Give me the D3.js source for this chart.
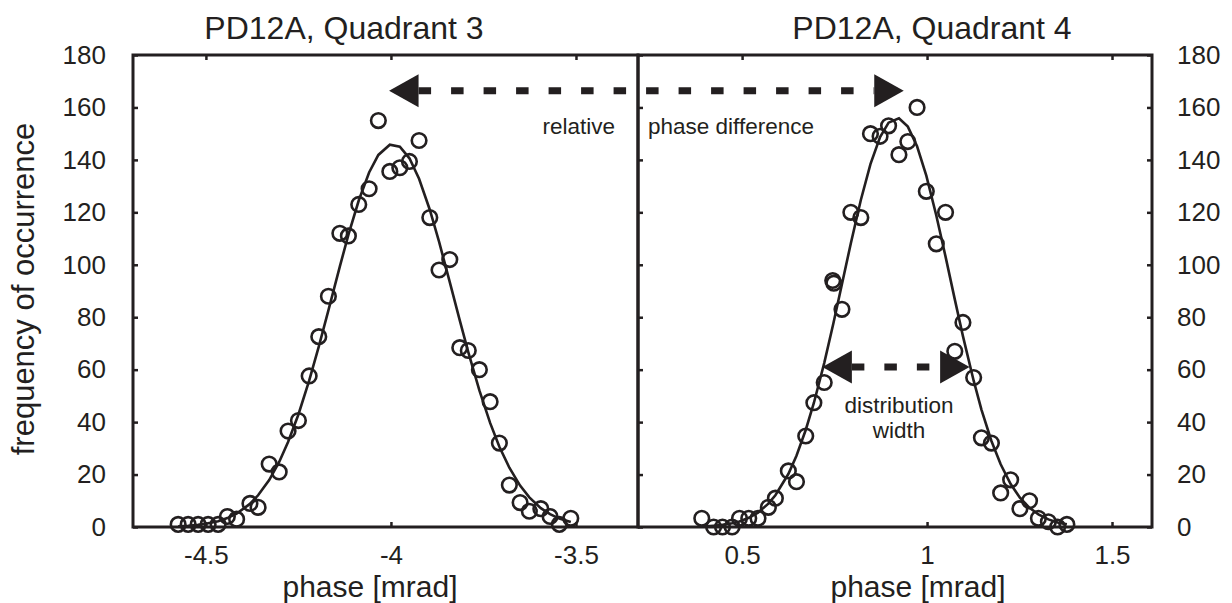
<!DOCTYPE html>
<html>
<head>
<meta charset="utf-8">
<script src="https://cdn.jsdelivr.net/npm/d3@7"></script>
<style>
  body { margin: 0; background: #fff; }
  svg { display: block; font-family: "Liberation Sans", Arial, Helvetica, sans-serif; }
</style>
</head>
<body>
<div id="chart-area"></div>
<script>
const WIDTH = 1232;
const HEIGHT = 603;
const INK = '#231f20';

// PD12A, Quadrant 3 - histogram points
const q3Phase = [-4.575, -4.548, -4.521, -4.494, -4.467, -4.442, -4.417, -4.381, -4.359, -4.329,
  -4.302, -4.278, -4.250, -4.221, -4.195, -4.169, -4.138, -4.115, -4.087, -4.059,
  -4.034, -4.003, -3.976, -3.950, -3.924, -3.895, -3.870, -3.841, -3.814, -3.791,
  -3.761, -3.732, -3.707, -3.680, -3.651, -3.626, -3.595, -3.570, -3.545, -3.514];
const q3Count = [1, 1, 1, 1, 1, 4, 3, 9, 7.5, 24,
  21, 36.6, 40.6, 57.6, 72.6, 88, 112, 111, 123, 129,
  155, 135.6, 137, 139.4, 147.4, 118, 98, 102, 68.4, 67.3,
  60, 47.8, 32, 16, 9.3, 6, 7, 4, 1, 3.3];
// fitted curve, read at the same phases
const q3Fit = [0.3, 0.5, 0.8, 1.4, 2.2, 3.4, 5.1, 8.8, 12.1, 17.9,
  24.8, 32.4, 42.9, 55.8, 68.8, 82.6, 99.4, 111.4, 124.5, 135.2,
  141.9, 145.8, 145.0, 140.6, 132.8, 121.0, 108.8, 93.4, 78.8, 66.7,
  52.1, 39.7, 30.6, 22.6, 15.8, 11.3, 7.2, 4.9, 3.2, 1.9];

// PD12A, Quadrant 4 - histogram points
const q4Phase = [0.391, 0.423, 0.447, 0.473, 0.493, 0.518, 0.543, 0.571, 0.590, 0.625,
  0.647, 0.672, 0.694, 0.722, 0.745, 0.748, 0.770, 0.794, 0.821, 0.847,
  0.873, 0.896, 0.924, 0.948, 0.973, 0.998, 1.025, 1.050, 1.075, 1.097,
  1.126, 1.147, 1.174, 1.199, 1.226, 1.251, 1.277, 1.301, 1.328, 1.353, 1.378];
const q4Count = [3.3, 0, 0, 0, 3.3, 3.3, 3.3, 7.5, 11, 21.4,
  17.3, 34.7, 47.4, 55.1, 94, 93, 83, 120, 118, 150,
  149, 153, 142, 147, 160, 128, 108, 120, 67, 78,
  57, 34, 32, 13, 18, 7, 10, 3.3, 2, 0, 1];
const q4FitPhase = [0.391, 0.423, 0.447, 0.473, 0.493, 0.518, 0.543, 0.571, 0.590, 0.625,
  0.647, 0.672, 0.694, 0.722, 0.747, 0.770, 0.794, 0.821, 0.847, 0.873,
  0.896, 0.924, 0.948, 0.973, 0.998, 1.025, 1.050, 1.075, 1.097, 1.126,
  1.147, 1.174, 1.199, 1.226, 1.251, 1.277, 1.301, 1.328, 1.353, 1.378];
const q4Fit = [0.2, 0.5, 0.8, 1.4, 2.1, 3.5, 5.5, 8.9, 12.1, 20.2,
  27.2, 37.0, 47.3, 62.5, 77.8, 92.7, 108.2, 124.7, 138.4, 148.7,
  154.2, 155.9, 152.7, 145.2, 134.0, 118.8, 103.1, 86.8, 72.8, 55.8,
  44.8, 32.8, 23.9, 16.4, 11.2, 7.3, 4.8, 2.9, 1.7, 1.0];

const countTicks = [0, 20, 40, 60, 80, 100, 120, 140, 160, 180];
const q3PhaseTicks = [-4.5, -4, -3.5];
const q4PhaseTicks = [0.5, 1, 1.5];
const titles = ['PD12A, Quadrant 3', 'PD12A, Quadrant 4'];
const xTitle = 'phase [mrad]';
const yTitle = 'frequency of occurrence';

const TOP = 55;
const BOTTOM = 527;

main();

function main() {
  const svg = d3.select('#chart-area').append('svg')
    .attr('width', WIDTH)
    .attr('height', HEIGHT);

  const y = d3.scaleLinear().domain([0, 180]).range([BOTTOM, TOP]);
  const x3 = d3.scaleLinear().domain([-4.697, -3.3324]).range([133, 638]);
  const x4 = d3.scaleLinear().domain([0.2186, 1.6081]).range([638, 1152]);

  drawPanel(svg, {
    x: x3, y, ticks: q3PhaseTicks, phase: q3Phase, count: q3Count,
    fitPhase: q3Phase, fit: q3Fit, side: 'left',
    title: titles[0], titleX: 344, labelX: 370,
  });
  drawPanel(svg, {
    x: x4, y, ticks: q4PhaseTicks, phase: q4Phase, count: q4Count,
    fitPhase: q4FitPhase, fit: q4Fit, side: 'right',
    title: titles[1], titleX: 932, labelX: 918,
  });

  svg.append('text')
    .attr('transform', `translate(34, 289) rotate(-90)`)
    .attr('text-anchor', 'middle')
    .attr('font-size', 31)
    .attr('fill', INK)
    .text(yTitle);

  // relative phase difference: peak to peak
  drawArrow(svg, x3(-4.005), x4(0.937), y(166.4));
  svg.append('text')
    .attr('x', 615).attr('y', 134)
    .attr('text-anchor', 'end')
    .attr('font-size', 22.5)
    .attr('fill', INK)
    .text('relative');
  svg.append('text')
    .attr('x', 648).attr('y', 134)
    .attr('font-size', 22.5)
    .attr('fill', INK)
    .text('phase difference');

  // distribution width
  drawArrow(svg, x4(0.717), x4(1.115), y(61));
  svg.append('text')
    .attr('x', 899).attr('y', 413)
    .attr('text-anchor', 'middle')
    .attr('font-size', 22.5)
    .attr('fill', INK)
    .text('distribution');
  svg.append('text')
    .attr('x', 899).attr('y', 438)
    .attr('text-anchor', 'middle')
    .attr('font-size', 22.5)
    .attr('fill', INK)
    .text('width');
}

function drawPanel(svg, p) {
  const [x0, x1] = p.x.range();
  const g = svg.append('g');

  const styleAxis = sel => {
    sel.select('.domain').remove();
    sel.selectAll('.tick line').attr('stroke', INK).attr('stroke-width', 2.5);
    sel.selectAll('.tick text')
      .attr('fill', INK)
      .attr('font-size', 26)
      .attr('font-family', '"Liberation Sans", Arial, sans-serif');
  };

  g.append('g')
    .attr('transform', `translate(0, ${ BOTTOM })`)
    .call(d3.axisBottom(p.x).tickValues(p.ticks).tickSize(-5).tickPadding(19)
      .tickFormat(d => String(d)))
    .call(styleAxis);
  g.append('g')
    .attr('transform', `translate(0, ${ TOP })`)
    .call(d3.axisTop(p.x).tickValues(p.ticks).tickSize(-5).tickFormat(''))
    .call(styleAxis);

  if (p.side === 'left') {
    g.append('g')
      .attr('transform', `translate(${ x0 }, 0)`)
      .call(d3.axisLeft(p.y).tickValues(countTicks).tickSize(-5).tickPadding(27))
      .call(styleAxis);
  } else {
    g.append('g')
      .attr('transform', `translate(${ x0 }, 0)`)
      .call(d3.axisLeft(p.y).tickValues(countTicks).tickSize(-5).tickFormat(''))
      .call(styleAxis);
    g.append('g')
      .attr('transform', `translate(${ x1 }, 0)`)
      .call(d3.axisRight(p.y).tickValues(countTicks).tickSize(-5).tickPadding(25))
      .call(styleAxis);
  }

  g.append('rect')
    .attr('x', x0).attr('y', TOP)
    .attr('width', x1 - x0).attr('height', BOTTOM - TOP)
    .attr('fill', 'none')
    .attr('stroke', INK)
    .attr('stroke-width', 3);

  const line = d3.line()
    .x(d => p.x(d[0]))
    .y(d => p.y(d[1]));
  g.append('path')
    .datum(d3.zip(p.fitPhase, p.fit))
    .attr('d', line)
    .attr('fill', 'none')
    .attr('stroke', INK)
    .attr('stroke-width', 2.6);

  g.selectAll('circle.pt')
    .data(d3.zip(p.phase, p.count))
    .enter()
    .append('circle')
    .attr('class', 'pt')
    .attr('cx', d => p.x(d[0]))
    .attr('cy', d => p.y(d[1]))
    .attr('r', 7.3)
    .attr('fill', 'none')
    .attr('stroke', INK)
    .attr('stroke-width', 2.6);

  g.append('text')
    .attr('x', p.titleX).attr('y', 39)
    .attr('text-anchor', 'middle')
    .attr('font-size', 32)
    .attr('fill', INK)
    .text(p.title);

  g.append('text')
    .attr('x', p.labelX).attr('y', 597)
    .attr('text-anchor', 'middle')
    .attr('font-size', 30)
    .attr('fill', INK)
    .text(xTitle);
}

// dashed double arrow, tips at xa and xb
function drawArrow(svg, xa, xb, yy) {
  const HEAD = 29.5;
  const HALF = 16.5;
  const g = svg.append('g');
  g.append('line')
    .attr('x1', xa + HEAD).attr('x2', xb - HEAD)
    .attr('y1', yy).attr('y2', yy)
    .attr('stroke', INK)
    .attr('stroke-width', 7)
    .attr('stroke-dasharray', '12.5 20');
  g.append('path')
    .attr('d', `M${ xa },${ yy }L${ xa + HEAD },${ yy - HALF }L${ xa + HEAD },${ yy + HALF }Z`)
    .attr('fill', INK);
  g.append('path')
    .attr('d', `M${ xb },${ yy }L${ xb - HEAD },${ yy - HALF }L${ xb - HEAD },${ yy + HALF }Z`)
    .attr('fill', INK);
}
</script>
</body>
</html>
